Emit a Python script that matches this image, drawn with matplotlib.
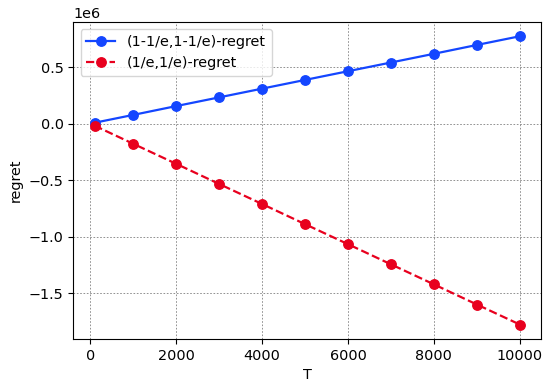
import numpy as np
import matplotlib
matplotlib.use("Agg")
import matplotlib.pyplot as plt

# ── data ──────────────────────────────────────────────────────────────────────
T = [100, 1000, 2000, 3000, 4000, 5000, 6000, 7000, 8000, 9000, 10000]
regret_hi = [0.0077e6, 0.077e6, 0.155e6, 0.232e6, 0.309e6, 0.386e6,
             0.463e6, 0.540e6, 0.617e6, 0.695e6, 0.772e6]
regret_lo = [-0.018e6, -0.178e6, -0.355e6, -0.533e6, -0.710e6, -0.888e6,
             -1.065e6, -1.243e6, -1.420e6, -1.598e6, -1.775e6]

plt.rcParams["font.size"] = 10.4

fig, ax = plt.subplots(figsize=(5.51, 3.83), dpi=100)
fig.subplots_adjust(left=0.133, right=0.982, top=0.943, bottom=0.115)

ax.plot(T, regret_hi, "-o", color="#1446ff", ms=6.8, lw=1.6,
        label="(1-1/e,1-1/e)-regret")
ax.plot(T, regret_lo, "--o", color="#e8001e", ms=6.8, lw=1.6,
        label="(1/e,1/e)-regret")

ax.set_xlabel("T")
ax.set_ylabel("regret")
ax.grid(True, color="gray", ls="--", lw=0.6, dashes=(2, 2))
ax.legend(loc="upper left")

plt.savefig("out.png", dpi=100)
plt.close()
